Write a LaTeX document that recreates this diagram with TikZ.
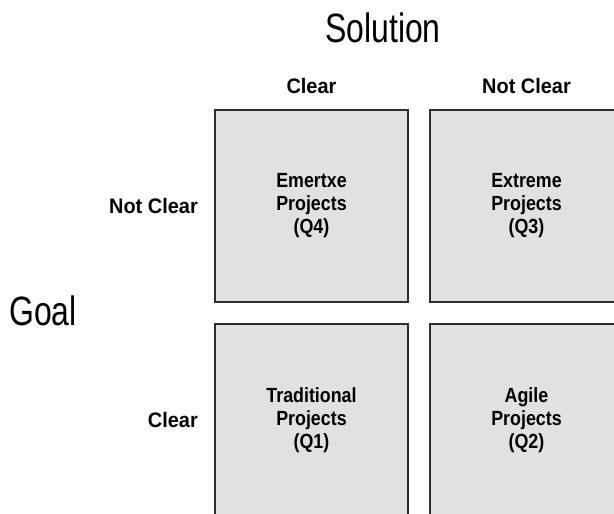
\documentclass[tikz,border=0pt]{standalone}
\usepackage{fontspec}
\setmainfont{Liberation Sans}
\newfontfamily\headfont[FakeStretch=0.78]{Liberation Sans}
\newfontfamily\boxfont[FakeStretch=0.87]{Liberation Sans Bold}
\newfontfamily\axisfont[FakeStretch=0.95]{Liberation Sans Bold}
\usetikzlibrary{
		calc,
		positioning
	}
\definecolor{quadgray}{RGB}{225,225,225}
\definecolor{quadline}{RGB}{45,45,45}

\begin{document}
\begin{tikzpicture}[-,auto,node distance=22pt,x=1pt,y=1pt]
	\tikzstyle{quad}=[draw=quadline, fill=quadgray, line width=1.3pt, rectangle, outer sep=0pt, minimum width=193pt, minimum height=192pt, align=center, font=\boxfont\fontsize{20.5}{23}\selectfont]
	\tikzstyle{axis}=[inner sep=0pt, font=\axisfont\fontsize{21}{24}\selectfont]
	\tikzstyle{head}=[inner sep=0pt, font=\headfont\fontsize{41}{48}\selectfont]
	\useasboundingbox (0,0) rectangle (614,-514);
	\clip (0,0) rectangle (614,-514);
	% Quadrants
	\node[quad] (q4) at (311.5,-206)		{Emertxe\\Projects\\(Q4)};
	\node[quad] (q3) [right = of q4]		{Extreme\\Projects\\(Q3)};
	\node[quad] (q1) [below = of q4]		{Traditional\\Projects\\(Q1)};
	\node[quad] (q2) [below = of q3]		{Agile\\Projects\\(Q2)};
	% Axis labels
	\node[axis] (solclear)    [above = 16pt of q4]		{Clear};
	\node[axis] (solnotclear) [above = 16pt of q3]		{Not Clear};
	\node[axis] (goalnotclear) [left = 17pt of q4]		{Not Clear};
	\node[axis] (goalclear)    [left = 17pt of q1]		{Clear};
	% Titles
	\node[head, anchor=base] (solution) at (383,-42)	{Solution};
	\node[head, anchor=base west] (goal) at (9,-325)	{Goal};
\end{tikzpicture}
\end{document}
